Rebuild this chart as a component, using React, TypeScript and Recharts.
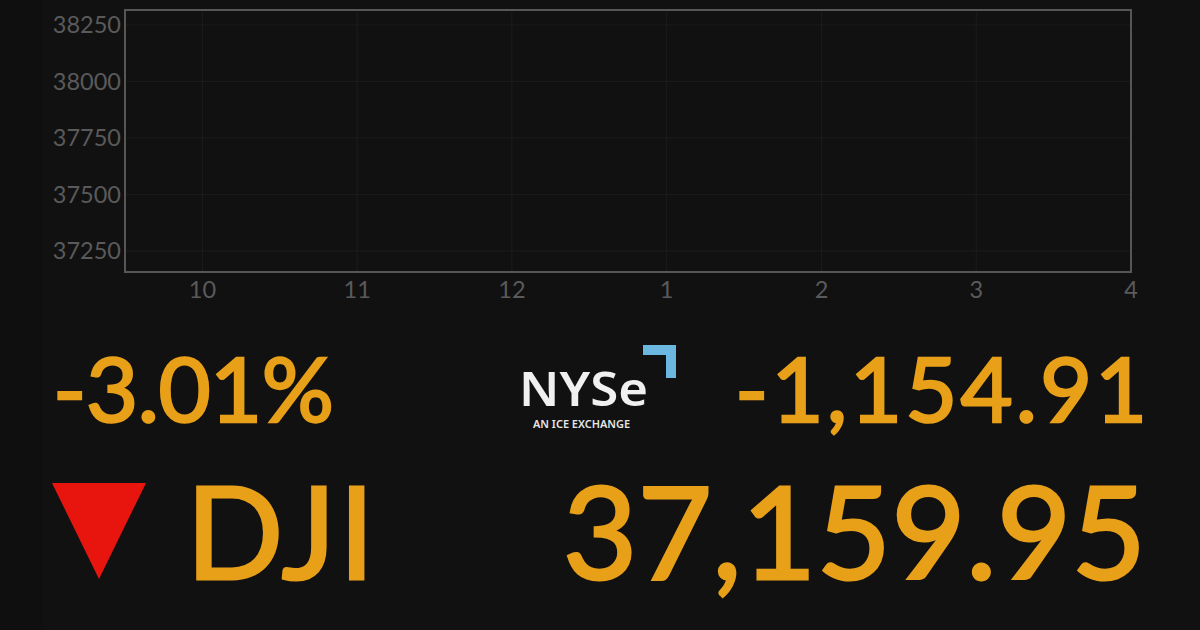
import React from 'react';
import { CartesianGrid, Line, LineChart, ReferenceArea, XAxis, YAxis } from 'recharts';

// the reference shows an empty session chart: no price line was drawn
const dowValues: { hour: number; value: number }[] = [];
const hourTicks = [10, 11, 12, 13, 14, 15, 16];
const hourLabels = ['10', '11', '12', '1', '2', '3', '4'];
const priceTicks = [37250, 37500, 37750, 38000, 38250];
const hourDomain = [9.5, 16];
const priceDomain = [37157, 38316];

const percentChange = '-3.01%';
const pointChange = '-1,154.91';
const indexName = 'DJI';
const indexLevel = '37,159.95';

const ORANGE = '#e8a019';
const FONT = 'Lato, sans-serif';

const bigText = (left: number, top: number, size: number, text: string, stroke: number, spacing = 0) => (
  <div
    style={{
      position: 'absolute',
      left,
      top,
      fontFamily: FONT,
      fontSize: size,
      lineHeight: 1,
      color: ORANGE,
      whiteSpace: 'nowrap',
      letterSpacing: spacing,
      WebkitTextStroke: `${stroke}px ${ORANGE}`,
    }}
  >
    {text}
  </div>
);

const App: React.FC = () => {
  const tickStyle = { fill: '#5a5a5a', fontSize: 23.5, fontFamily: FONT };
  return (
    <div style={{ position: 'fixed', left: 0, top: 0, width: 1200, height: 630, background: '#111112', overflow: 'hidden' }}>
      <div style={{ position: 'absolute', left: 0, top: 0, width: 43, height: 630, background: '#0f0f10' }} />
      <div style={{ position: 'absolute', left: 0, top: 0 }}>
        <LineChart width={1200} height={630} data={dowValues} margin={{ top: 10, left: 45, right: 69, bottom: 318 }}>
          <CartesianGrid stroke="#1c1c1d" strokeWidth={1} />
          <XAxis
            dataKey="hour"
            type="number"
            domain={hourDomain}
            ticks={hourTicks}
            tickFormatter={(h: number) => hourLabels[hourTicks.indexOf(h)]}
            tick={tickStyle}
            tickLine={false}
            axisLine={false}
            tickSize={0}
            tickMargin={9}
            interval={0}
            height={40}
            allowDataOverflow
          />
          <YAxis
            type="number"
            domain={priceDomain}
            ticks={priceTicks}
            tick={tickStyle}
            tickLine={false}
            axisLine={false}
            tickSize={0}
            tickMargin={4}
            interval={0}
            width={80}
            allowDataOverflow
          />
          <ReferenceArea
            x1={hourDomain[0]}
            x2={hourDomain[1]}
            y1={priceDomain[0]}
            y2={priceDomain[1]}
            fill="none"
            stroke="#565656"
            strokeWidth={2}
          />
          <Line dataKey="value" stroke={ORANGE} dot={false} isAnimationActive={false} />
        </LineChart>
      </div>

      {bigText(53, 342, 90, percentChange, 2.5, -0.5)}
      {bigText(735, 342, 90, pointChange, 2.5, 3)}
      {bigText(186, 466, 128, indexName, 3, 3)}
      {bigText(563, 466, 128, indexLevel, 3, 0.5)}

      <svg width={1200} height={630} style={{ position: 'absolute', left: 0, top: 0 }}>
        <polygon points="52,483 146,483 99,579" fill="#e8150f" />
        <polygon points="643,345 676,345 676,378 666,378 666,355 643,355" fill="#6bb7df" />
        <text x={519} y={406} fontFamily="Noto Sans, sans-serif" fontWeight={600} fontSize={46} fill="#f0f0f0" textLength={129} lengthAdjust="spacingAndGlyphs">NYSe</text>
        <text x={533} y={428} fontFamily="Noto Sans, sans-serif" fontWeight={600} fontSize={10} fill="#e6e6e6" textLength={97} lengthAdjust="spacingAndGlyphs">AN ICE EXCHANGE</text>
      </svg>
    </div>
  );
};

export default App;
